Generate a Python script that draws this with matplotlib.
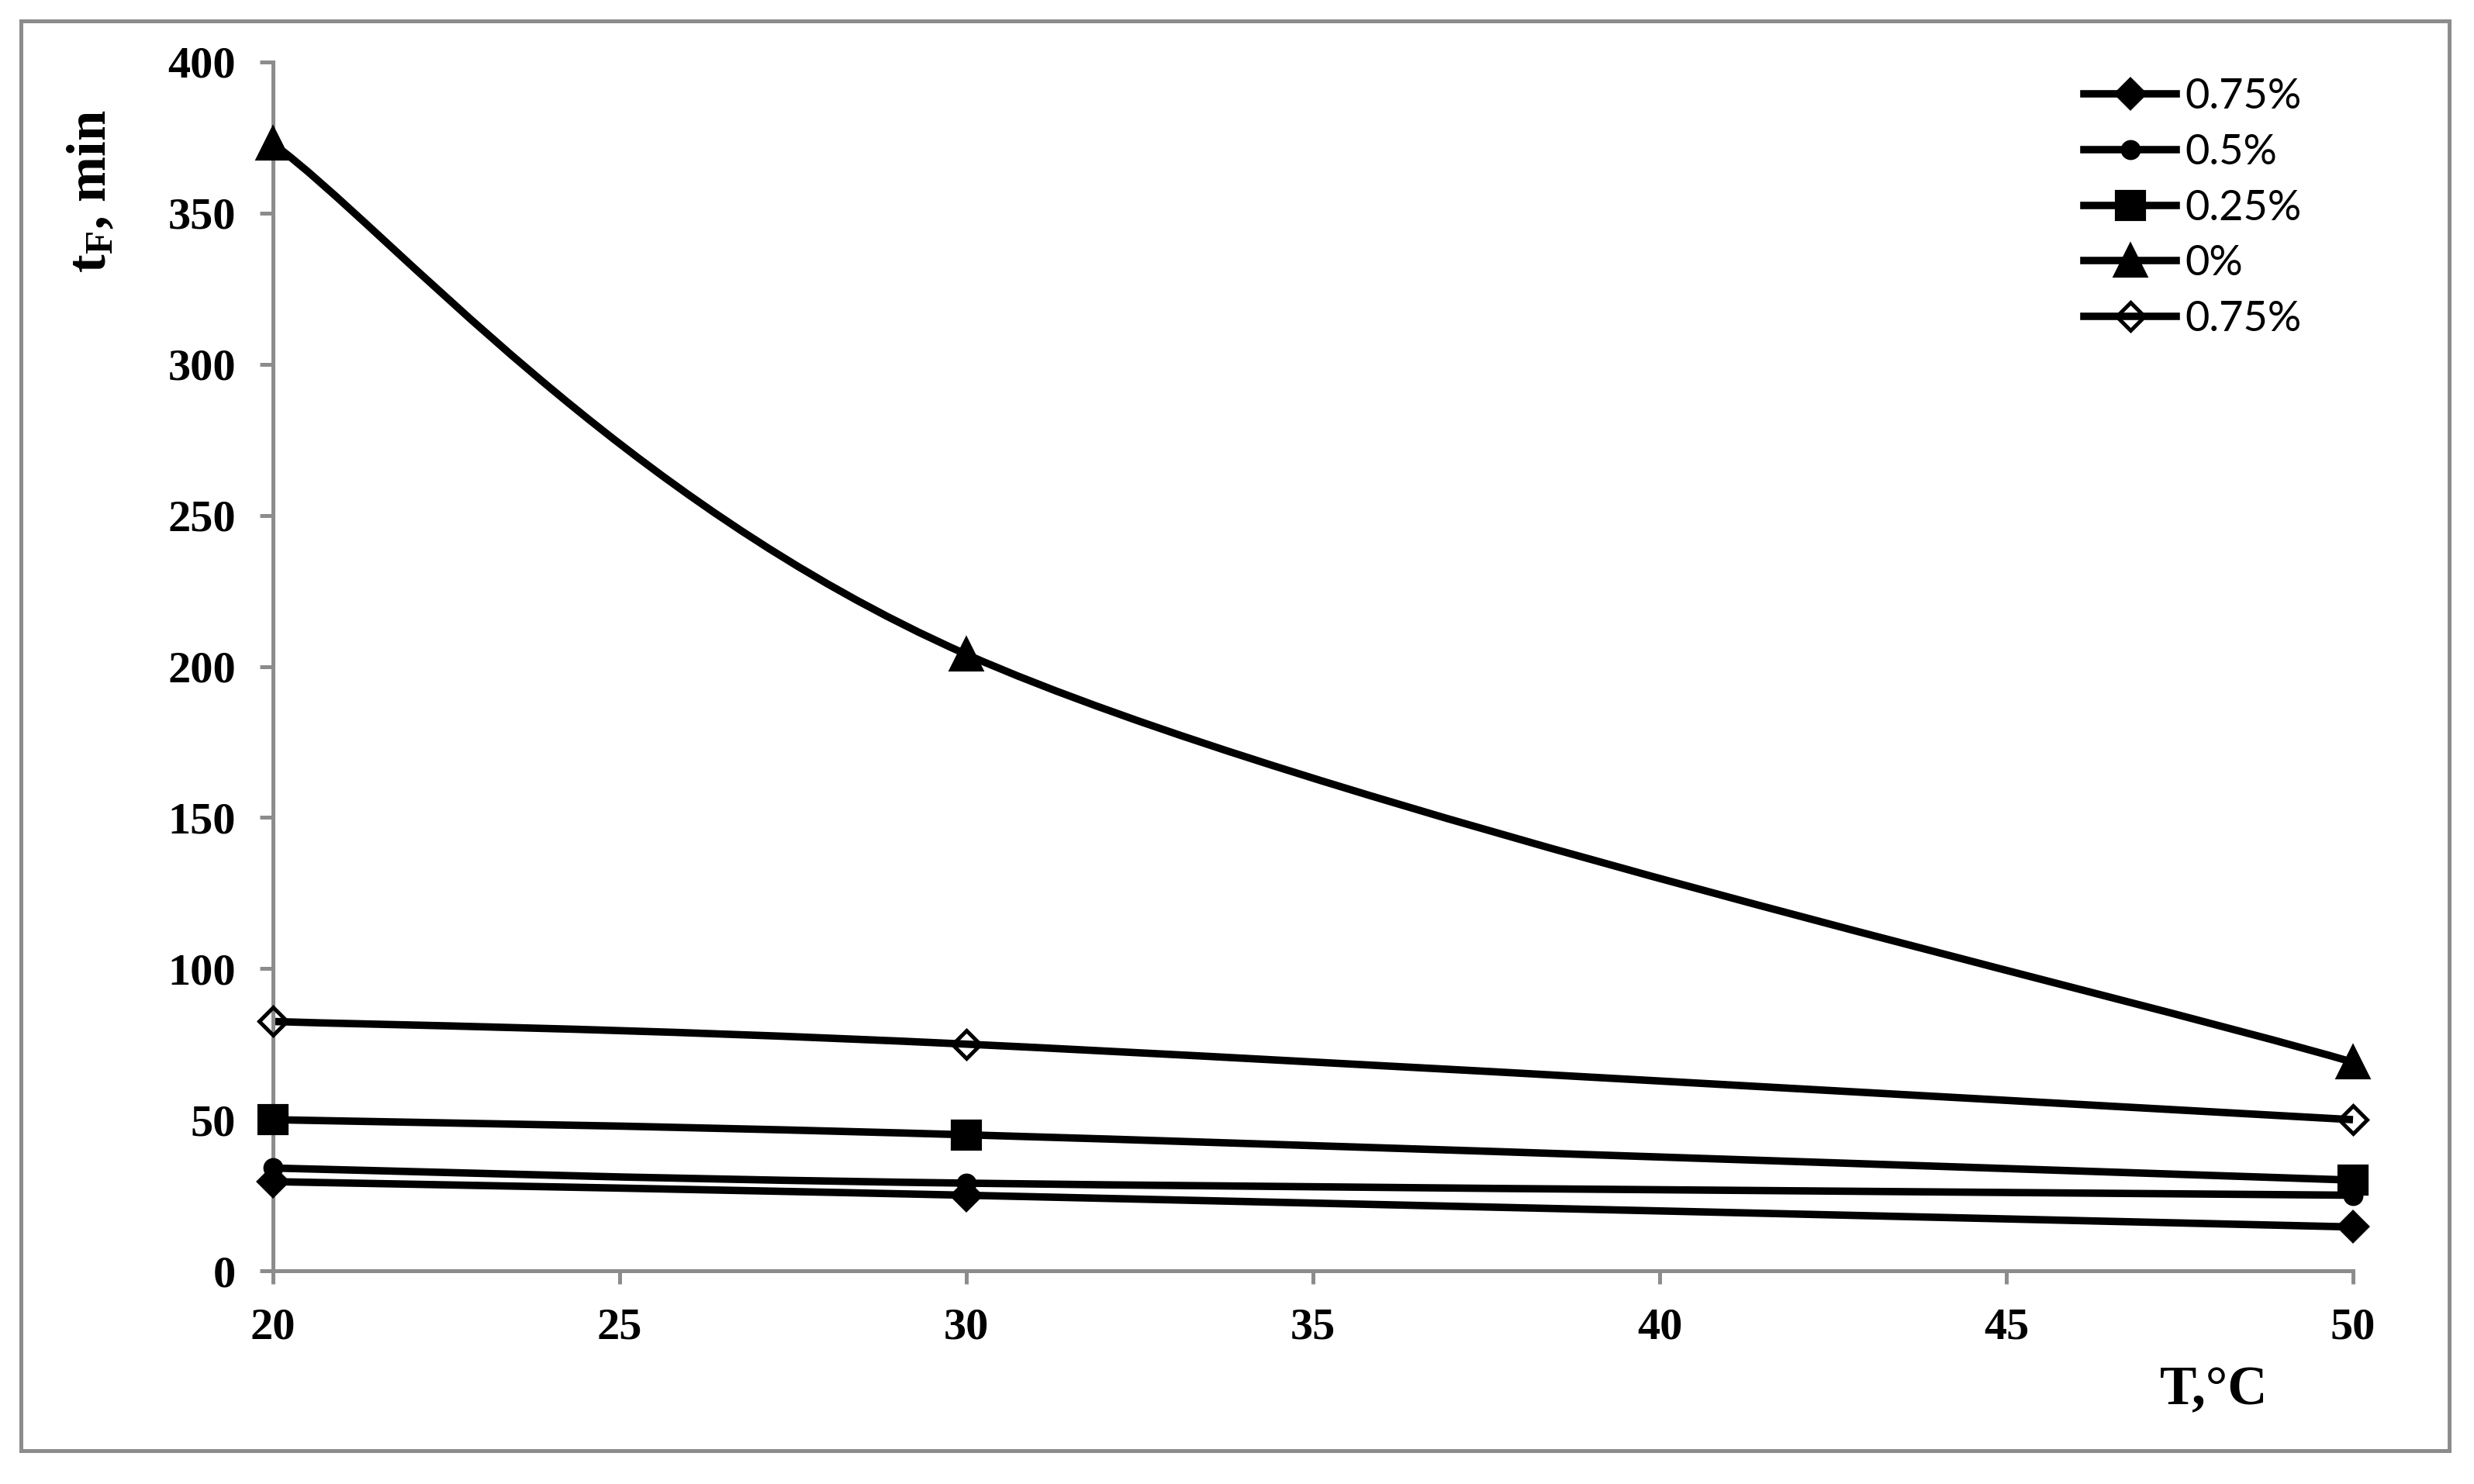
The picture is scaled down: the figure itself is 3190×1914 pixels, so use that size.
import numpy as np
import matplotlib
matplotlib.use('Agg')
import matplotlib.pyplot as plt
from matplotlib.path import Path
from matplotlib.patches import PathPatch, Rectangle
from matplotlib.lines import Line2D

# data
temps = [20, 30, 50]
labels = ['0.75%', '0.5%', '0.25%', '0%', '0.75%']
t_075 = [29.5, 25.0, 14.5]
t_050 = [34.0, 29.0, 25.0]
t_025 = [50.0, 45.0, 30.0]
t_000 = [373.0, 204.0, 69.0]
t_075b = [82.5, 75.0, 50.0]

GRAY = '#8c8c8c'
plt.rcParams['mathtext.fontset'] = 'custom'
plt.rcParams['mathtext.rm'] = 'Liberation Serif:bold'
plt.rcParams['mathtext.it'] = 'Liberation Serif:bold'
plt.rcParams['mathtext.bf'] = 'Liberation Serif:bold'


def smooth_path(xs, ys):
    # excel-like smoothed line, bezier through the points
    pts = np.column_stack([xs, ys]).astype(float)
    n = len(pts)
    verts = [pts[0]]
    codes = [Path.MOVETO]
    for i in range(n - 1):
        p0 = pts[i - 1] if i > 0 else pts[i]
        p1 = pts[i]
        p2 = pts[i + 1]
        p3 = pts[i + 2] if i + 2 < n else pts[i + 1]
        verts += [p1 + (p2 - p0) / 6, p2 - (p3 - p1) / 6, p2]
        codes += [Path.CURVE4] * 3
    return Path(verts, codes)


fig = plt.figure(figsize=(3190 / 300, 1914 / 300), dpi=300)
ax = fig.add_axes([352 / 3190, 1 - 1639 / 1914, (3034 - 352) / 3190, (1639 - 80) / 1914])

series = [
    (t_075, dict(marker='D', ms=6.4, mfc='black', mec='black')),
    (t_050, dict(marker='o', ms=5.2, mfc='black', mec='black')),
    (t_025, dict(marker='s', ms=8.8, mfc='black', mec='black')),
    (t_000, dict(marker='^', ms=9.4, mfc='black', mec='black')),
    (t_075b, dict(marker='D', ms=6.0, mfc='none', mec='black', mew=1.2)),
]

handles = []
for (vals, style), lab in zip(series, labels):
    ax.add_patch(PathPatch(smooth_path(temps, vals), facecolor='none',
                           edgecolor='black', lw=2.3, clip_on=False, zorder=2))
    ax.plot(temps, vals, ls='none', clip_on=False, zorder=3, **style)
    handles.append(Line2D([], [], color='black', lw=2.3, label=lab, **style))

ax.set_xlim(20, 50)
ax.set_ylim(0, 400)
ax.set_xticks(np.arange(20, 51, 5))
ax.set_yticks(np.arange(0, 401, 50))
for s in ['top', 'right']:
    ax.spines[s].set_visible(False)
for s in ['left', 'bottom']:
    ax.spines[s].set_color(GRAY)
    ax.spines[s].set_linewidth(1.2)
ax.tick_params(direction='out', length=4, width=1.2, color=GRAY, pad=7.5)
for lbl in ax.get_xticklabels() + ax.get_yticklabels():
    lbl.set_fontfamily('Liberation Serif')
    lbl.set_fontweight('bold')
    lbl.set_fontsize(14)

ax.set_xlabel('T,°C', fontfamily='Liberation Serif', fontweight='bold', fontsize=17)
ax.xaxis.set_label_coords(0.933, -0.099)
ax.xaxis.label.set_va('center')
ax.set_ylabel(r'$\mathrm{t_F}$, min', fontfamily='Liberation Serif',
              fontweight='bold', fontsize=17)
ax.yaxis.set_label_coords(-0.087, 0.893)
ax.yaxis.label.set_va('center')

leg = fig.legend(handles=handles, loc='upper left',
                 bbox_to_anchor=(2687 / 3190, 1 - 100 / 1914),
                 frameon=False, borderpad=0, borderaxespad=0,
                 handlelength=2.2, handletextpad=0.2, labelspacing=0.42,
                 prop={'family': 'Lato', 'size': 13})

fig.patches.append(Rectangle((27 / 3190, 1 - 1871 / 1914), (3158 - 27) / 3190,
                             (1871 - 27) / 1914, transform=fig.transFigure,
                             fill=False, edgecolor=GRAY, lw=1.2))

fig.savefig('out.png', dpi=300)
